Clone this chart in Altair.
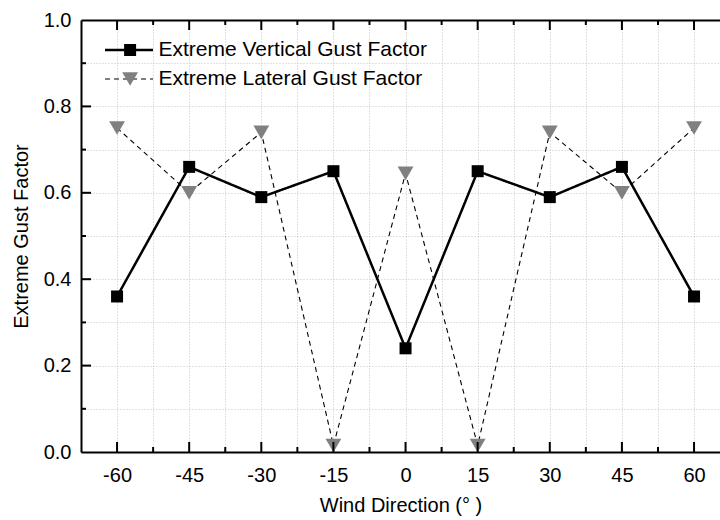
import altair as alt
import pandas as pd

# Wind direction (degrees) and the two extreme gust factors
directions = [-60, -45, -30, -15, 0, 15, 30, 45, 60]
vertical_gust = [0.36, 0.66, 0.59, 0.65, 0.24, 0.65, 0.59, 0.66, 0.36]
lateral_gust = [0.75, 0.60, 0.74, 0.015, 0.645, 0.015, 0.74, 0.60, 0.75]
series_names = ["Extreme Vertical Gust Factor", "Extreme Lateral Gust Factor"]
marker_keys = ["Vertical", "Lateral"]

# Tick positions
x_major = [-60, -45, -30, -15, 0, 15, 30, 45, 60]
x_minor = [-52.5, -37.5, -22.5, -7.5, 7.5, 22.5, 37.5, 52.5]
y_major = [0.0, 0.2, 0.4, 0.6, 0.8, 1.0]
y_minor = [0.1, 0.3, 0.5, 0.7, 0.9]

rows = []
for d, v in zip(directions, vertical_gust):
    rows.append({"direction": d, "value": v, "series": series_names[0], "marker": marker_keys[0]})
for d, v in zip(directions, lateral_gust):
    rows.append({"direction": d, "value": v, "series": series_names[1], "marker": marker_keys[1]})
frame = pd.DataFrame(rows)

W, H = 639, 432
FONT = "Liberation Sans"
FS = 20
LEGEND_FS = 21

x_scale = alt.Scale(domain=[-67.5, 65.4], nice=False, zero=False)
y_scale = alt.Scale(domain=[0, 1], nice=False, zero=False)

# Main axes: labels on major ticks only, dotted grid on every major and minor tick
x_axis = alt.Axis(
    orient="bottom", values=sorted(x_major + x_minor),
    labelExpr="datum.value % 15 == 0 ? (datum.value < 0 ? '-' + abs(datum.value) : '' + datum.value) : ''",
    ticks=False, tickSize=0, labelPadding=13, labelFont=FONT, labelFontSize=FS, labelColor="black",
    labelOverlap=False, labelFlush=False,
    grid=True, gridDash=[1, 2], gridColor="#c4c4c4", gridWidth=1,
    domain=True, domainColor="black", domainWidth=2,
    title="Wind Direction (° )", titleFont=FONT, titleFontSize=FS, titleFontWeight="normal",
    titleColor="black", titlePadding=10,
)
y_axis = alt.Axis(
    orient="left", values=sorted(y_major + y_minor),
    labelExpr="round(datum.value * 10) % 2 == 0 ? format(datum.value, '.1f') : ''",
    ticks=False, tickSize=0, labelPadding=10, labelFont=FONT, labelFontSize=FS, labelColor="black",
    labelOverlap=False, labelFlush=False,
    grid=True, gridDash=[1, 2], gridColor="#c4c4c4", gridWidth=1,
    domain=True, domainColor="black", domainWidth=2,
    title="Extreme Gust Factor", titleFont=FONT, titleFontSize=FS, titleFontWeight="normal",
    titleColor="black", titlePadding=12,
)
# Top frame line
top_axis = alt.Axis(orient="top", ticks=False, labels=False, grid=False, domain=True,
                    domainColor="black", domainWidth=2, title=None)

line_legend = alt.Legend(title=None, orient="none", legendX=22.5, legendY=20,
                         symbolType="stroke", symbolSize=2304, symbolStrokeColor="black",
                         clipHeight=20, rowPadding=8, labelOffset=4, padding=0, labelLimit=500,
                         labelFont=FONT, labelFontSize=LEGEND_FS, labelColor="black")
marker_legend = alt.Legend(title=None, orient="none", legendX=38.6, legendY=20,
                           clipHeight=20, rowPadding=8, labelExpr="''",
                           symbolStrokeWidth=0, padding=0,
                           labelFont=FONT, labelFontSize=LEGEND_FS)

lines = alt.Chart(frame).mark_line(color="black").encode(
    x=alt.X("direction:Q", scale=x_scale, axis=x_axis),
    y=alt.Y("value:Q", scale=y_scale, axis=y_axis),
    strokeDash=alt.StrokeDash("series:N", sort=series_names,
                              scale=alt.Scale(domain=series_names, range=[[1, 0], [5, 4]]),
                              legend=line_legend),
    strokeWidth=alt.StrokeWidth("series:N", sort=series_names,
                                scale=alt.Scale(type="point", domain=series_names, range=[2.5, 1.1]),
                                legend=line_legend),
)

points = alt.Chart(frame).mark_point(filled=True, opacity=1, strokeWidth=0).encode(
    x=alt.X("direction:Q", scale=x_scale, axis=None),
    y=alt.Y("value:Q", scale=y_scale, axis=None),
    shape=alt.Shape("marker:N", sort=marker_keys,
                    scale=alt.Scale(domain=marker_keys, range=["square", "triangle-down"]),
                    legend=marker_legend),
    fill=alt.Fill("marker:N", sort=marker_keys,
                  scale=alt.Scale(domain=marker_keys, range=["#000000", "#808080"]),
                  legend=marker_legend),
    size=alt.Size("marker:N", sort=marker_keys,
                  scale=alt.Scale(type="point", domain=marker_keys, range=[144, 250]),
                  legend=marker_legend),
)

frame_top = alt.Chart(frame).mark_point(opacity=0).encode(
    x=alt.X("direction:Q", scale=x_scale, axis=top_axis),
    y=alt.Y("value:Q", scale=y_scale, axis=None),
)

# Inward-pointing tick marks on the bottom, top and left edges
xt_major = pd.DataFrame({"t": x_major})
xt_minor = pd.DataFrame({"t": x_minor})
yt_major = pd.DataFrame({"t": y_major[1:-1]})
yt_minor = pd.DataFrame({"t": y_minor})


def x_ticks(df, y0, y1):
    return alt.Chart(df).mark_rule(color="black", strokeWidth=2).encode(
        x=alt.X("t:Q", scale=x_scale, axis=None), y=alt.value(y0), y2=alt.value(y1))


def y_ticks(df, length):
    return alt.Chart(df).mark_rule(color="black", strokeWidth=2).encode(
        y=alt.Y("t:Q", scale=y_scale, axis=None), x=alt.value(0), x2=alt.value(length))


chart = alt.layer(
    lines,
    points,
    frame_top,
    x_ticks(xt_major, H - 10, H),
    x_ticks(xt_minor, H - 5, H),
    x_ticks(xt_major, 0, 10),
    x_ticks(xt_minor, 0, 5),
    y_ticks(yt_major, 10),
    y_ticks(yt_minor, 5),
).resolve_axis(x="independent", y="independent").properties(
    width=W, height=H,
    autosize=alt.AutoSizeParams(type="none"),
    padding={"left": 81, "top": 20, "right": 0, "bottom": 68},
).configure_view(stroke=None)

chart.save("out.html", embed_options={"renderer": "svg", "actions": False})
